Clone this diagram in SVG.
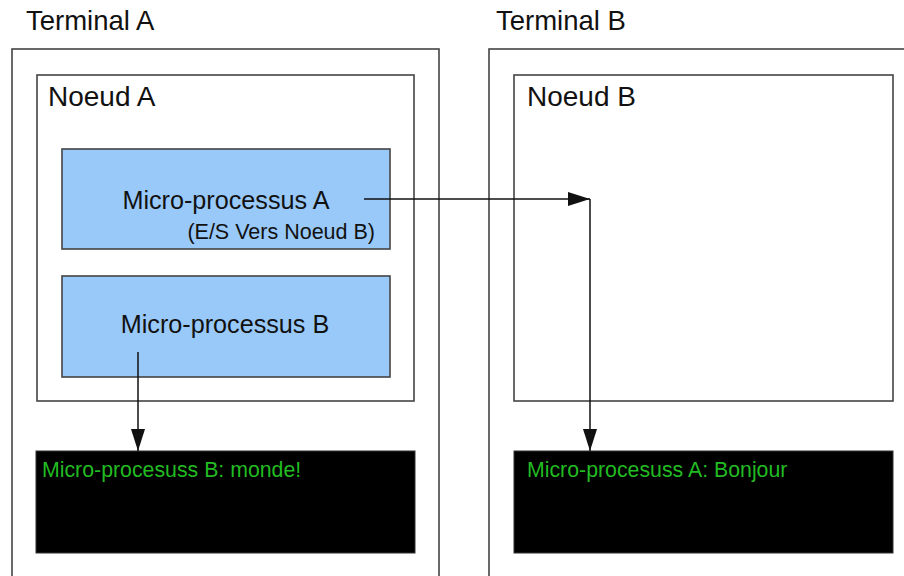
<svg xmlns="http://www.w3.org/2000/svg" width="904" height="576" viewBox="0 0 904 576">
  <style>
    text { font-family: "Liberation Sans", Arial, sans-serif; fill: #111; }
    .frame { fill: #ffffff; stroke: #444; stroke-width: 1.6; }
    .proc { fill: #99c9f9; stroke: #444; stroke-width: 1.6; }
    .console { fill: #000000; stroke: #333; stroke-width: 1; }
    .title { font-size: 27.5px; }
    .node { font-size: 28px; }
    .plabel { font-size: 25.2px; }
    .note { font-size: 21.5px; }
    .out { font-size: 21.3px; fill: #22bb22; }
    .wire { fill: none; stroke: #111; stroke-width: 1.5; }
  </style>
  <defs>
    <marker id="arrow" markerWidth="22" markerHeight="14" refX="22" refY="7" orient="auto" markerUnits="userSpaceOnUse">
      <path d="M0,0 L22,7 L0,14 Z" fill="#111"/>
    </marker>
  </defs>

  <rect width="904" height="576" fill="#ffffff"/>

  <!-- Terminal A -->
  <g id="terminal-a">
    <text class="title" x="26" y="30">Terminal A</text>
    <rect class="frame" x="12" y="49" width="427" height="540"/>
  </g>

  <!-- Terminal B -->
  <g id="terminal-b">
    <text class="title" x="496" y="30">Terminal B</text>
    <rect class="frame" x="489" y="49" width="430" height="540"/>
  </g>

  <!-- Noeud A with its two processors -->
  <g id="noeud-a">
    <rect class="frame" x="37" y="75" width="377" height="326"/>
    <text class="node" x="48" y="106">Noeud A</text>
  </g>
  <g id="micro-processus-a">
    <rect class="proc" x="62" y="149" width="328" height="100"/>
    <text class="plabel" x="226" y="209" text-anchor="middle">Micro-processus A</text>
    <text class="note" x="375" y="239" text-anchor="end">(E/S Vers Noeud B)</text>
  </g>
  <g id="micro-processus-b">
    <rect class="proc" x="62" y="276" width="328" height="101"/>
    <text class="plabel" x="225" y="333" text-anchor="middle">Micro-processus B</text>
  </g>

  <!-- Noeud B -->
  <g id="noeud-b">
    <rect class="frame" x="514" y="75" width="379" height="326"/>
    <text class="node" x="527" y="106">Noeud B</text>
  </g>

  <!-- Console outputs -->
  <g id="console-a">
    <rect class="console" x="36" y="451" width="379" height="102"/>
    <text class="out" x="42" y="477">Micro-procesuss B: monde!</text>
  </g>
  <g id="console-b">
    <rect class="console" x="514" y="451" width="379" height="102"/>
    <text class="out" x="527" y="477">Micro-procesuss A: Bonjour</text>
  </g>

  <!-- Connectors -->
  <g id="connectors">
    <path class="wire" d="M364,199 H590" marker-end="url(#arrow)"/>
    <path class="wire" d="M590,199 V451" marker-end="url(#arrow)"/>
    <path class="wire" d="M138,352 V451" marker-end="url(#arrow)"/>
  </g>
</svg>
